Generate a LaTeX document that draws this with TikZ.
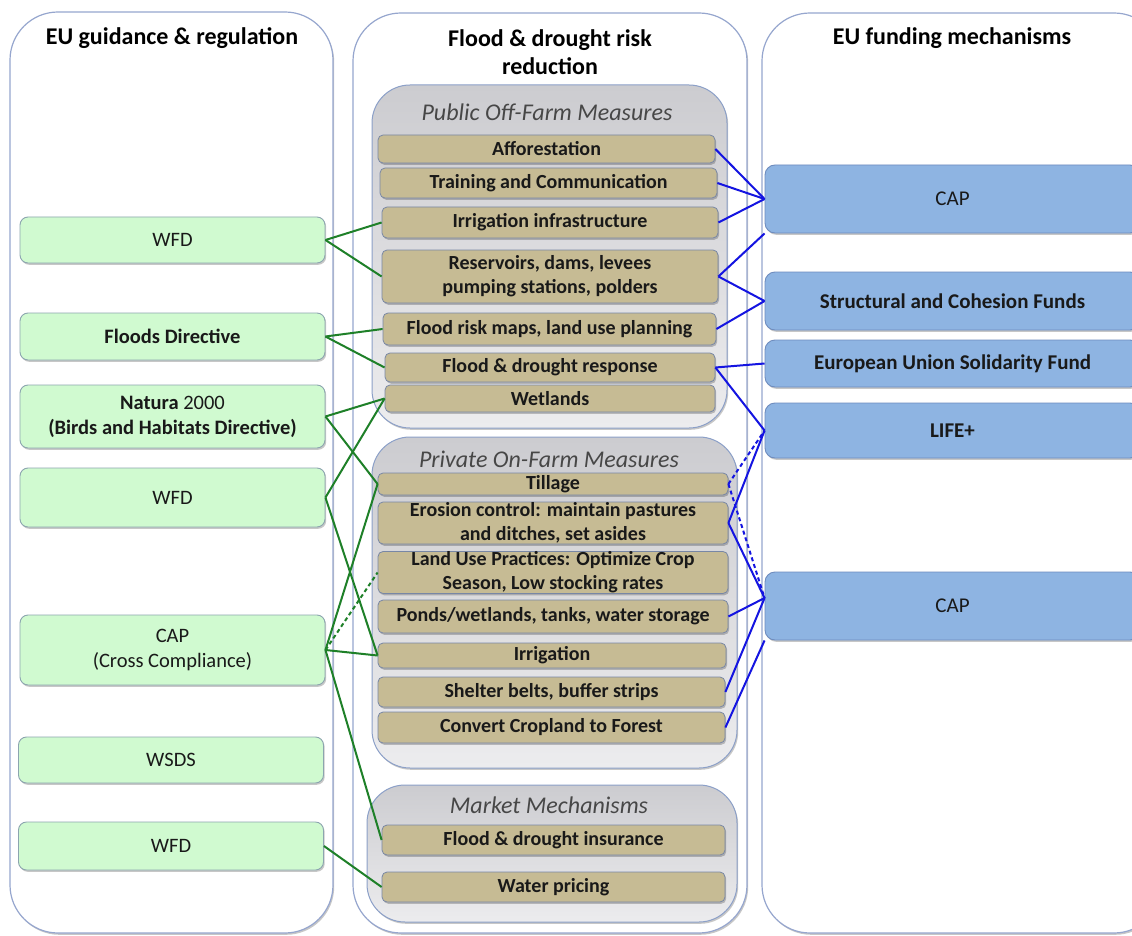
\documentclass[tikz,border=0pt]{standalone}
\usepackage{fontspec}
\setmainfont{Carlito}
\usetikzlibrary{shadows}
\definecolor{panelc}{RGB}{150,166,206}
\definecolor{grpborder}{RGB}{140,160,200}
\definecolor{grptop}{RGB}{204,204,208}
\definecolor{grpbot}{RGB}{236,236,238}
\definecolor{tanc}{RGB}{198,187,148}
\definecolor{tanborder}{RGB}{120,135,165}
\definecolor{greenc}{RGB}{208,250,208}
\definecolor{greenborder}{RGB}{140,165,175}
\definecolor{bluec}{RGB}{142,180,226}
\definecolor{blueborder}{RGB}{110,140,190}
\definecolor{linegreen}{RGB}{30,128,40}
\definecolor{lineblue}{RGB}{20,20,225}
\definecolor{txt}{RGB}{25,25,25}
\newcommand\hdrfont{\fontsize{24}{28}\selectfont\bfseries}
\newcommand\ttlfont{\fontsize{24}{27}\selectfont\itshape}
\newcommand\itmfont{\fontsize{20}{24}\selectfont\bfseries}
\newcommand\boxfont{\fontsize{20.5}{25}\selectfont}
\newcommand\bluefont{\fontsize{21}{25}\selectfont}
\tikzset{
  shd/.style={drop shadow={shadow xshift=1.2pt,shadow yshift=-1.8pt,fill=black,opacity=.22}},
  panel/.style={draw=panelc, line width=1.2pt, fill=white, rounded corners=48pt, inner sep=0pt, shd},
  grp/.style={draw=grpborder, line width=1pt, top color=grptop, bottom color=grpbot, rounded corners=38pt, inner sep=0pt, shd},
  item/.style={draw=tanborder, line width=0.8pt, fill=tanc, rounded corners=5pt, inner sep=0pt, align=center, font=\itmfont, text=txt, shd},
  gbox/.style={draw=greenborder, line width=0.9pt, fill=greenc, rounded corners=8pt, inner sep=0pt, align=center, font=\boxfont, text=txt, minimum width=305pt, shd},
  bbox/.style={draw=blueborder, line width=0.9pt, fill=bluec, rounded corners=10pt, inner sep=0pt, align=center, font=\bluefont, text=txt, minimum width=375pt, shd},
  hdr/.style={font=\hdrfont, align=center, text=black, inner sep=0pt},
  ttl/.style={font=\ttlfont, text=black!72, inner sep=0pt},
  gl/.style={draw=linegreen, line width=2pt},
  bl/.style={draw=lineblue, line width=2pt},
  dsh/.style={dash pattern=on 4pt off 3pt}
}
\begin{document}
\begin{tikzpicture}[x=1pt,y=-1pt]
\useasboundingbox (0,0) rectangle (1132,936);
\clip (0,0) rectangle (1132,936);
\fill[white] (0,0) rectangle (1132,936);
% panels
\node[panel, minimum width=323pt, minimum height=921pt] (pL) at (171.5,472.5) {};
\node[panel, minimum width=394pt, minimum height=920pt] (pM) at (550,473) {};
\node[panel, minimum width=400pt, minimum height=920pt] (pR) at (962,473) {};
% headers
\node[hdr] (hL) at (172,38) {EU guidance \& regulation};
\node[hdr] (hM) at (550,52) {Flood \& drought risk\\reduction};
\node[hdr] (hR) at (952,38) {EU funding mechanisms};
% groups
\node[grp, minimum width=355pt, minimum height=343pt] (gPub) at (549.5,256.5) {};
\node[grp, minimum width=365pt, minimum height=331pt] (gPri) at (554.5,602.5) {};
\node[grp, minimum width=370pt, minimum height=137pt] (gMkt) at (552,853.5) {};
\node[ttl] (tPub) at (547,112) {Public Off-Farm Measures};
\node[ttl] (tPri) at (549,459) {Private On-Farm Measures};
\node[ttl] (tMkt) at (549,805) {Market Mechanisms};
% public items
\node[item, minimum width=337pt, minimum height=28pt] (aff) at (546.5,149) {Afforestation};
\node[item, minimum width=337pt, minimum height=30pt] (train) at (548.5,183) {Training and Communication};
\node[item, minimum width=336pt, minimum height=31pt] (irrinf) at (550,222.5) {Irrigation infrastructure};
\node[item, minimum width=336pt, minimum height=53pt] (res) at (550,276.5) {Reservoirs, dams, levees\\pumping stations, polders};
\node[item, minimum width=333pt, minimum height=32pt] (maps) at (549.5,329) {Flood risk maps, land use planning};
\node[item, minimum width=330pt, minimum height=29pt] (resp) at (550,367.5) {Flood \& drought response};
\node[item, minimum width=330pt, minimum height=27pt] (wet) at (550,398.5) {Wetlands};
% private items
\node[item, minimum width=350pt, minimum height=22pt] (till) at (553,484) {Tillage};
\node[item, minimum width=350pt, minimum height=42pt] (eros) at (553,523) {Erosion control: maintain pastures\\and ditches, set asides};
\node[item, minimum width=350pt, minimum height=42pt] (land) at (553,572.5) {Land Use Practices: Optimize Crop\\Season, Low stocking rates};
\node[item, minimum width=350pt, minimum height=33pt] (ponds) at (553,616.5) {Ponds/wetlands, tanks, water storage};
\node[item, minimum width=348pt, minimum height=25pt] (irr) at (552,655.5) {Irrigation};
\node[item, minimum width=347pt, minimum height=30pt] (shel) at (551.5,692) {Shelter belts, buffer strips};
\node[item, minimum width=347pt, minimum height=31pt] (conv) at (551.5,727.5) {Convert Cropland to Forest};
% market items
\node[item, minimum width=343pt, minimum height=30pt] (ins) at (553.5,840) {Flood \& drought insurance};
\node[item, minimum width=343pt, minimum height=30pt] (price) at (553.5,887) {Water pricing};
% left boxes
\node[gbox, minimum height=46pt] (wfdA) at (172.5,240) {WFD};
\node[gbox, minimum height=47pt] (flood) at (172.5,336.5) {\bfseries Floods Directive};
\node[gbox, minimum height=63pt] (natura) at (172.5,416.5) {\textbf{Natura} 2000\\\textbf{(Birds and Habitats Directive)}};
\node[gbox, minimum height=59pt] (wfdB) at (172.5,497.5) {WFD};
\node[gbox, minimum height=70pt] (capcc) at (172.5,650) {CAP\\(Cross Compliance)};
\node[gbox, minimum height=46pt] (wsds) at (171,760) {WSDS};
\node[gbox, minimum height=48pt] (wfdC) at (171,846) {WFD};
% right boxes
\node[bbox, minimum height=68pt] (capA) at (952.5,199) {CAP};
\node[bbox, minimum height=58pt] (scf) at (952.5,301) {\bfseries Structural and Cohesion Funds};
\node[bbox, minimum height=47pt] (eusf) at (952.5,363.5) {\bfseries European Union Solidarity Fund};
\node[bbox, minimum height=55pt] (life) at (952.5,430.5) {\bfseries LIFE+};
\node[bbox, minimum height=68pt] (capB) at (952.5,606) {CAP};
\coordinate (capBin) at ([yshift=8pt]capB.west);
% green connectors
\draw[gl] (wfdA.east) -- (irrinf.west);
\draw[gl] (wfdA.east) -- (res.west);
\draw[gl] (flood.east) -- (maps.west);
\draw[gl] (flood.east) -- (resp.west);
\draw[gl] (natura.east) -- (wet.west);
\draw[gl] (natura.east) -- (till.west);
\draw[gl] (wfdB.east) -- (wet.west);
\draw[gl] (wfdB.east) -- (irr.west);
\draw[gl] (capcc.east) -- (till.west);
\draw[gl, dsh] (capcc.east) -- (land.west);
\draw[gl] (capcc.east) -- (irr.west);
\draw[gl] (capcc.east) -- (ins.west);
\draw[gl] (wfdC.east) -- (price.west);
% blue connectors
\draw[bl] (aff.east) -- (capA.west);
\draw[bl] (train.east) -- (capA.west);
\draw[bl] (irrinf.east) -- (capA.west);
\draw[bl] (res.east) -- (capA.south west);
\draw[bl] (res.east) -- (scf.west);
\draw[bl] (maps.east) -- (scf.west);
\draw[bl] (resp.east) -- (eusf.west);
\draw[bl] (resp.east) -- (life.west);
\draw[bl, dsh] (till.east) -- (life.west);
\draw[bl, dsh] (till.east) -- (capBin);
\draw[bl] (eros.east) -- (life.west);
\draw[bl] (eros.east) -- (capBin);
\draw[bl] (ponds.east) -- (capBin);
\draw[bl] (shel.east) -- (capBin);
\draw[bl] (conv.east) -- (capB.south west);
\end{tikzpicture}
\end{document}
